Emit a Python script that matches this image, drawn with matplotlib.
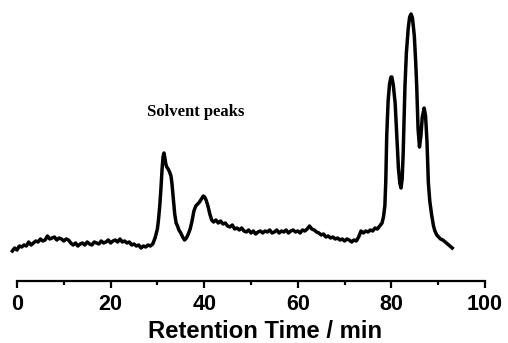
"""
Chromatogram recreation: retention time trace with solvent peaks.
"""

import matplotlib
matplotlib.use("Agg")
import matplotlib.pyplot as plt


# retention time (min) and detector signal (arbitrary units)
time_min = [
    -1.0, -0.5, 0.0, 0.5, 1.0, 1.5, 2.0, 2.5, 3.0, 3.5, 4.0, 4.5, 5.0, 5.5, 6.0, 6.5,
    7.0, 7.5, 8.0, 8.5, 9.0, 9.5, 10.0, 10.5, 11.0, 11.5, 12.0, 12.5, 13.0, 13.5,
    14.0, 14.5, 15.0, 15.5, 16.0, 16.5, 17.0, 17.5, 18.0, 18.5, 19.0, 19.5, 20.0,
    20.5, 21.0, 21.5, 22.0, 22.5, 23.0, 23.5, 24.0, 24.5, 25.0, 25.5, 26.0, 26.5,
    27.0, 27.5, 28.0, 28.5, 29.0, 29.5, 30.0, 30.25, 30.5, 30.75, 31.0, 31.2, 31.4,
    31.6, 31.8, 32.0, 32.3, 32.6, 32.9, 33.1, 33.4, 33.7, 34.0, 34.3, 34.6, 35.0,
    35.4, 35.8, 36.2, 36.6, 37.0, 37.4, 37.8, 38.2, 38.6, 39.0, 39.4, 39.8, 40.1,
    40.4, 40.8, 41.2, 41.6, 42.0, 42.5, 43.0, 43.5, 44.0, 44.5, 45.0, 45.5, 46.0,
    46.5, 47.0, 47.5, 48.0, 48.5, 49.0, 49.5, 50.0, 50.5, 51.0, 51.5, 52.0, 52.5,
    53.0, 53.5, 54.0, 54.5, 55.0, 55.5, 56.0, 56.5, 57.0, 57.5, 58.0, 58.5, 59.0,
    59.5, 60.0, 60.5, 61.0, 61.5, 62.0, 62.5, 63.0, 63.5, 64.0, 64.5, 65.0, 65.5,
    66.0, 66.5, 67.0, 67.5, 68.0, 68.5, 69.0, 69.5, 70.0, 70.5, 71.0, 71.5, 72.0,
    72.5, 73.0, 73.5, 74.0, 74.5, 75.0, 75.5, 76.0, 76.5, 77.0, 77.5, 78.0, 78.3,
    78.6, 78.8, 79.0, 79.3, 79.6, 79.9, 80.1, 80.4, 80.8, 81.1, 81.5, 81.8, 82.05,
    82.3, 82.5, 82.9, 83.2, 83.6, 83.9, 84.2, 84.5, 84.9, 85.2, 85.4, 85.7, 86.0,
    86.3, 86.6, 87.0, 87.3, 87.6, 87.9, 88.2, 88.6, 89.0, 89.3, 89.7, 90.1, 90.5,
    91.0, 91.5, 92.0, 92.5, 93.0,
]

signal = [
    30, 33, 31, 35, 34, 36, 35, 39, 36, 38, 40, 39, 42, 40, 41, 45,
    42, 43, 44, 41, 43, 42, 40, 42, 41, 38, 36, 38, 35, 37,
    38, 36, 39, 37, 36, 39, 38, 37, 40, 38, 39, 41, 38,
    40, 41, 39, 42, 39, 40, 38, 39, 36, 37, 35, 36, 33,
    35, 34, 36, 35, 37, 43, 52, 62, 75, 92, 112, 124, 128,
    123, 117, 114, 112, 109, 105, 98, 82, 67, 58, 55, 51, 48,
    44, 41, 43, 47, 52, 60, 70, 75, 77, 79, 82, 85, 84,
    81, 75, 67, 61, 59, 61, 58, 60, 57, 58, 55, 54, 56,
    52, 53, 51, 53, 50, 49, 51, 48, 50, 47, 49, 50, 48,
    50, 49, 51, 48, 49, 51, 48, 50, 49, 51, 48, 50, 51,
    49, 50, 48, 51, 50, 52, 55, 52, 51, 49, 48, 46, 47,
    44, 45, 43, 44, 42, 43, 41, 42, 40, 42, 41, 39, 41,
    40, 44, 50, 48, 50, 49, 51, 50, 53, 52, 55, 58, 64,
    75, 100, 145, 180, 197, 204, 204, 196, 178, 150, 113, 98, 93,
    102, 125, 195, 228, 253, 264, 267, 263, 245, 218, 196, 152, 134,
    145, 164, 173, 165, 140, 98, 80, 66, 55, 50, 46, 44, 42,
    41, 39, 37, 35, 33,
]

major_ticks = [0, 20, 40, 60, 80, 100]
minor_ticks = [10, 30, 50, 70, 90]

annotation_text = "Solvent peaks"
annotation_xy = (38.2, 169)


def main() -> None:
    fig = plt.figure(figsize=(5.08, 3.43), dpi=100)
    ax = fig.add_axes([17 / 508, 62 / 343, 468 / 508, 281 / 343])

    ax.plot(time_min, signal, color="black", linewidth=2.5,
            solid_joinstyle="round", clip_on=False)

    ax.set_xlim(0, 100)
    ax.set_ylim(0, 281)

    for side in ["top", "left", "right"]:
        ax.spines[side].set_visible(False)
    ax.spines["bottom"].set_linewidth(1.6)

    ax.set_yticks([])
    ax.set_xticks(major_ticks)
    ax.set_xticks(minor_ticks, minor=True)
    ax.tick_params(axis="x", which="major", direction="out", length=5, width=1.6, pad=4)
    ax.tick_params(axis="x", which="minor", direction="out", length=3, width=1.6)

    for label in ax.get_xticklabels():
        label.set_fontfamily("Liberation Sans")
        label.set_fontweight("bold")
        label.set_fontsize(15.5)

    ax.set_xlabel(
        "Retention Time / min",
        fontfamily="Liberation Sans",
        fontweight="bold",
        fontsize=17.2,
        labelpad=4,
    )
    # 原图中轴标题略偏右
    ax.xaxis.label.set_x(0.529)

    ax.text(
        annotation_xy[0], annotation_xy[1], annotation_text,
        ha="center", va="center",
        fontfamily="Liberation Serif", fontweight="bold", fontsize=12,
    )

    fig.savefig("out.png", dpi=100)
    plt.close(fig)


if __name__ == "__main__":
    main()
